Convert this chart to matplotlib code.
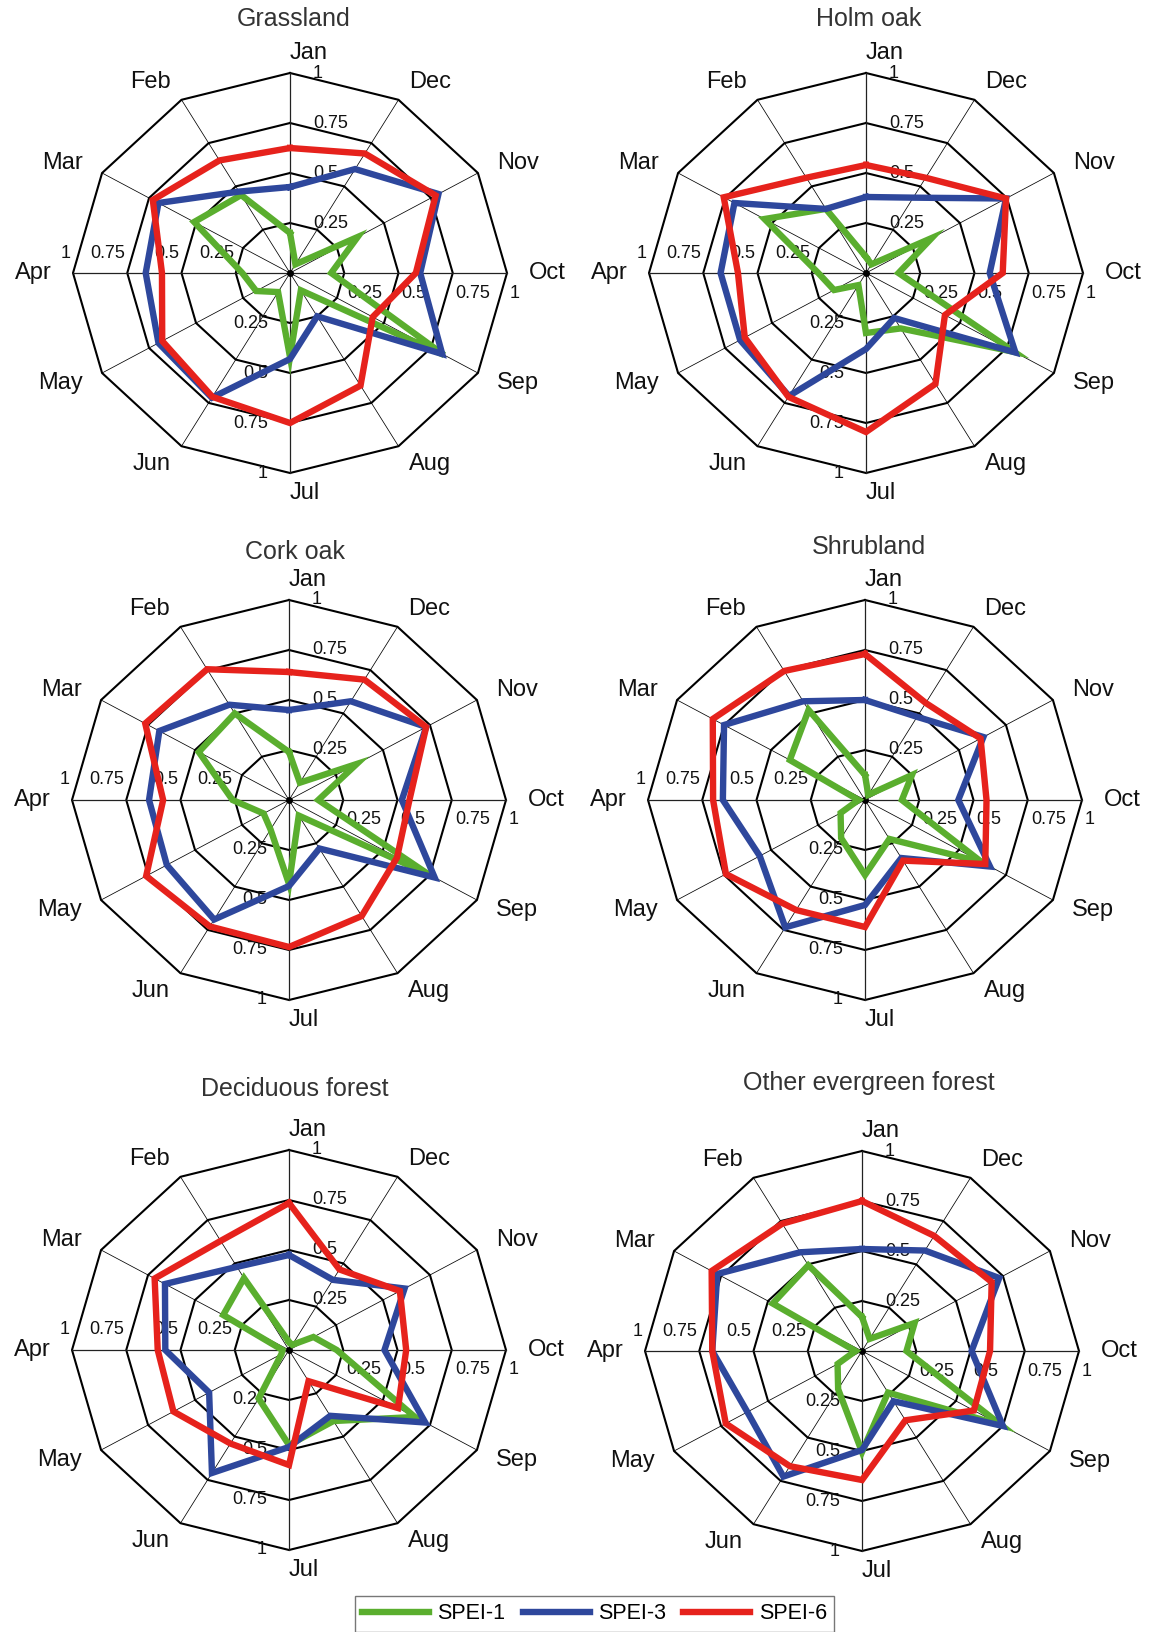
import numpy as np
import matplotlib
matplotlib.use("Agg")
import matplotlib.pyplot as plt
from matplotlib.lines import Line2D
from matplotlib.transforms import offset_copy

plt.rcParams["font.family"] = ["Liberation Sans", "DejaVu Sans"]

# months run counter-clockwise from the top
months = ["Jan", "Feb", "Mar", "Apr", "May", "Jun",
          "Jul", "Aug", "Sep", "Oct", "Nov", "Dec"]
series_names = ["SPEI-1", "SPEI-3", "SPEI-6"]
series_colors = ["#5aae2e", "#2e479c", "#e6221c"]
ring_values = [0.25, 0.5, 0.75, 1.0]
ring_labels = ["0.25", "0.5", "0.75", "1"]

# values
grassland_spei1 = [0.20, 0.45, 0.51, 0.22, 0.18, 0.11, 0.42, 0.10, 0.82, 0.19, 0.36, 0.05]
grassland_spei3 = [0.43, 0.47, 0.70, 0.665, 0.70, 0.72, 0.43, 0.25, 0.81, 0.60, 0.79, 0.60]
grassland_spei6 = [0.625, 0.65, 0.73, 0.59, 0.68, 0.715, 0.75, 0.65, 0.44, 0.58, 0.775, 0.69]

holm_spei1 = [0.08, 0.37, 0.54, 0.22, 0.17, 0.07, 0.30, 0.32, 0.79, 0.15, 0.35, 0.05]
holm_spei3 = [0.38, 0.37, 0.70, 0.67, 0.67, 0.71, 0.38, 0.26, 0.795, 0.57, 0.745, 0.435]
holm_spei6 = [0.54, 0.55, 0.757, 0.59, 0.645, 0.715, 0.795, 0.64, 0.42, 0.63, 0.745, 0.55]

cork_spei1 = [0.24, 0.50, 0.48, 0.26, 0.135, 0.17, 0.42, 0.09, 0.74, 0.135, 0.36, 0.10]
cork_spei3 = [0.45, 0.55, 0.69, 0.645, 0.65, 0.69, 0.43, 0.28, 0.775, 0.52, 0.73, 0.57]
cork_spei6 = [0.64, 0.755, 0.765, 0.58, 0.76, 0.73, 0.735, 0.67, 0.575, 0.555, 0.73, 0.695]

shrub_spei1 = [0.125, 0.52, 0.40, 0.03, 0.13, 0.22, 0.375, 0.225, 0.62, 0.17, 0.25, 0.03]
shrub_spei3 = [0.50, 0.57, 0.75, 0.655, 0.56, 0.735, 0.525, 0.335, 0.665, 0.43, 0.63, 0.48]
shrub_spei6 = [0.73, 0.745, 0.81, 0.70, 0.74, 0.635, 0.635, 0.35, 0.64, 0.56, 0.615, 0.56]

decid_spei1 = [0.04, 0.415, 0.35, 0.03, 0.04, 0.28, 0.475, 0.41, 0.67, 0.22, 0.13, 0.03]
decid_spei3 = [0.475, 0.48, 0.66, 0.57, 0.425, 0.71, 0.485, 0.38, 0.725, 0.44, 0.615, 0.405]
decid_spei6 = [0.735, 0.63, 0.715, 0.605, 0.615, 0.54, 0.575, 0.18, 0.58, 0.54, 0.59, 0.465]

other_spei1 = [0.17, 0.495, 0.475, 0.03, 0.13, 0.22, 0.505, 0.24, 0.74, 0.205, 0.28, 0.07]
other_spei3 = [0.51, 0.57, 0.77, 0.69, 0.61, 0.725, 0.495, 0.29, 0.75, 0.505, 0.73, 0.58]
other_spei6 = [0.75, 0.735, 0.80, 0.69, 0.725, 0.665, 0.645, 0.40, 0.595, 0.59, 0.69, 0.665]

panels = [
    ("Grassland", [grassland_spei1, grassland_spei3, grassland_spei6]),
    ("Holm oak", [holm_spei1, holm_spei3, holm_spei6]),
    ("Cork oak", [cork_spei1, cork_spei3, cork_spei6]),
    ("Shrubland", [shrub_spei1, shrub_spei3, shrub_spei6]),
    ("Deciduous forest", [decid_spei1, decid_spei3, decid_spei6]),
    ("Other evergreen forest", [other_spei1, other_spei3, other_spei6]),
]

# layout in pixels (from the top left)
W, H = 1151, 1632
centers = [(290, 273), (866, 273), (289, 800), (865, 800), (289, 1350), (862, 1351)]
title_xy = [(294, 19), (869, 19), (295, 552), (869, 547), (295, 1089), (869, 1083)]
RX, RY = 217, 200

fig = plt.figure(figsize=(W / 100, H / 100), dpi=100)

theta = np.arange(12) * 2 * np.pi / 12
theta_closed = np.append(theta, theta[0])

# radial labels sit on the Jan, Jul, Apr and Oct spokes
label_spokes = [(0, 23, 0, "left"), (6, -22, 0, "right"),
                (3, -2, 20, "right"), (9, 3, -20, "left")]

for (title, series), (cx, cy), (tx, ty) in zip(panels, centers, title_xy):
    ax = fig.add_axes([(cx - RX) / W, (H - cy - RY) / H, 2 * RX / W, 2 * RY / H],
                      projection="polar")
    ax.set_aspect("auto")
    ax.set_theta_zero_location("N")
    ax.set_theta_direction(1)
    ax.set_ylim(0, 1)
    ax.grid(False)
    ax.set_xticks([])
    ax.set_yticks([])
    ax.spines["polar"].set_visible(False)
    ax.patch.set_visible(False)

    # polygon grid
    for r in ring_values:
        ax.plot(theta_closed, [r] * 13, color="black", lw=1.5, zorder=1, clip_on=False)
    for i, t in enumerate(theta):
        main = i % 3 == 0
        ax.plot([t, t], [0, 1], color="#222222" if main else "black",
                lw=0.9 if main else 0.55, zorder=1, clip_on=False)
    ax.plot([0], [0], "o", color="black", ms=4, zorder=2, clip_on=False)

    for i, name in enumerate(months):
        ha = "right" if 1 <= i <= 5 else "left"
        ax.text(theta[i], 1.1, name, ha=ha, va="center", fontsize=17, color="#111111")

    for idx, dx, dy, ha in label_spokes:
        tr = offset_copy(ax.transData, fig=fig, x=dx, y=dy, units="dots")
        for r, lab in zip(ring_values, ring_labels):
            ax.text(theta[idx], r, lab, transform=tr, ha=ha, va="center",
                    fontsize=13, color="#111111", zorder=3)

    for k, (vals, col) in enumerate(zip(series, series_colors)):
        ax.plot(theta_closed, vals + vals[:1], color=col, lw=4.6,
                solid_joinstyle="miter", zorder=4 + k, clip_on=False)

    fig.text(tx / W, 1 - ty / H, title, ha="center", va="center",
             fontsize=18, color="#333333")

handles = [Line2D([], [], color=c, lw=4.6) for c in series_colors]
leg = fig.legend(handles, series_names, loc="lower center", ncol=3,
                 bbox_to_anchor=(594.5 / W, 0.0), fontsize=15.5,
                 frameon=True, fancybox=False, edgecolor="#555555",
                 handlelength=3.1, handletextpad=0.4, columnspacing=0.8,
                 borderpad=0.35, borderaxespad=0.0)
leg.get_frame().set_linewidth(1.0)

fig.savefig("out.png", dpi=100)
